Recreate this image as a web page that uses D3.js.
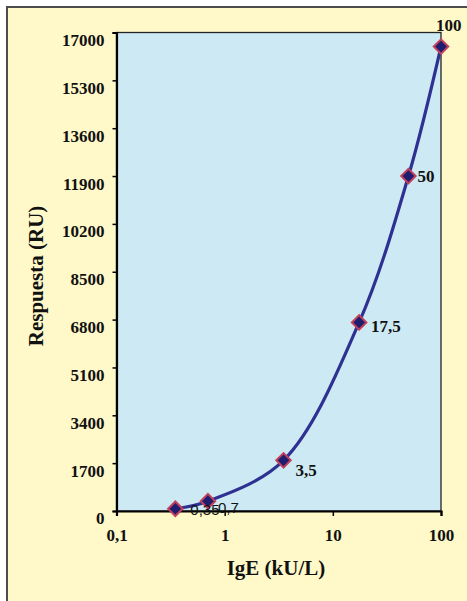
<!DOCTYPE html>
<html>
<head>
<meta charset="utf-8">
<script src="https://cdn.jsdelivr.net/npm/d3@7"></script>
<style>
  html, body { margin: 0; padding: 0; background: #ffffff; }
  svg { display: block; }
</style>
</head>
<body>
<svg id="chart" width="467" height="601"></svg>
<script>
// IgE concentration (kU/L) and instrument response (RU)
const igE = [0.35, 0.7, 3.5, 17.5, 50, 100];
const respuesta = [80, 350, 1800, 6700, 11900, 16500];
const pointLabels = ["0,35", "0,7", "3,5", "17,5", "50", "100"];

const xTickValues = [0.1, 1, 10, 100];
const xTickLabels = ["0,1", "1", "10", "100"];
const yTickValues = [0, 1700, 3400, 5100, 6800, 8500, 10200, 11900, 13600, 15300, 17000];
const yTickLabels = ["0", "1700", "3400", "5100", "6800", "8500", "10200", "11900", "13600", "15300", "17000"];

// label placement relative to each marker (left edge, baseline)
const labelOffsets = [[15, 6], [10, 12], [12, 16], [12, 10], [9, 6], [-5, -16]];

const svg = d3.select("#chart");
const W = 467, H = 601;
const plot = { left: 116.5, right: 441, top: 32.5, bottom: 511 };

const x = d3.scaleLog().domain([0.1, 100]).range([plot.left, plot.right]);
const y = d3.scaleLinear().domain([0, 17000]).range([plot.bottom, plot.top]);

const serif = "'Liberation Serif', 'Times New Roman', serif";

// outer panel
svg.append("rect")
  .attr("x", 6).attr("y", 6).attr("width", W).attr("height", H)
  .attr("fill", "#fff8c9");
svg.append("path")
  .attr("d", `M7,${H} V7 H${W}`)
  .attr("fill", "none").attr("stroke", "#4d4d4d").attr("stroke-width", 2);

// plot area
svg.append("rect")
  .attr("x", plot.left).attr("y", plot.top)
  .attr("width", plot.right - plot.left).attr("height", plot.bottom - plot.top)
  .attr("fill", "#cde9f3")
  .attr("stroke", "#222").attr("stroke-width", 1.3);

// y axis
const yAxis = d3.axisLeft(y)
  .tickValues(yTickValues)
  .tickSize(4)
  .tickFormat((d, i) => yTickLabels[i]);
const gy = svg.append("g").attr("transform", `translate(${plot.left},0)`).call(yAxis);
gy.select(".domain").attr("stroke", "#000").attr("stroke-width", 2.2);
gy.selectAll(".tick line").attr("stroke", "#000").attr("stroke-width", 1.5);
gy.selectAll(".tick text")
  .attr("x", -12).attr("dy", "0.82em").attr("y", -1)
  .style("font-family", serif).style("font-weight", "bold").style("font-size", "17px")
  .attr("fill", "#111");

// x axis
const xAxis = d3.axisBottom(x)
  .tickValues(xTickValues)
  .tickSize(5)
  .tickFormat((d, i) => xTickLabels[i]);
const gx = svg.append("g").attr("transform", `translate(0,${plot.bottom})`).call(xAxis);
gx.select(".domain").attr("stroke", "#000").attr("stroke-width", 2.2);
gx.selectAll(".tick line").attr("stroke", "#000").attr("stroke-width", 1.5);
gx.selectAll(".tick text")
  .attr("y", 18).attr("dy", "0.71em")
  .style("font-family", serif).style("font-weight", "bold").style("font-size", "17px")
  .attr("fill", "#111");

// axis titles
svg.append("text")
  .attr("transform", `translate(43,276) rotate(-90)`)
  .attr("text-anchor", "middle")
  .style("font-family", serif).style("font-weight", "bold").style("font-size", "21px")
  .attr("fill", "#111")
  .text("Respuesta (RU)");
svg.append("text")
  .attr("x", 276).attr("y", 575)
  .attr("text-anchor", "middle")
  .style("font-family", serif).style("font-weight", "bold").style("font-size", "21px")
  .attr("fill", "#111")
  .text("IgE (kU/L)");

// smoothed response curve
const pts = igE.map((d, i) => [x(d), y(respuesta[i])]);
const line = d3.line().curve(d3.curveCatmullRom.alpha(0.5));
svg.append("path")
  .attr("d", line(pts))
  .attr("fill", "none")
  .attr("stroke", "#2e3192")
  .attr("stroke-width", 3.2)
  .attr("stroke-linejoin", "round");

// diamond markers
const diamond = d3.symbol().type(d3.symbolSquare).size(105);
svg.append("g").selectAll("path")
  .data(pts)
  .join("path")
  .attr("d", diamond)
  .attr("transform", d => `translate(${d[0]},${d[1]}) rotate(45)`)
  .attr("fill", "#1f1d70")
  .attr("stroke", "#c2405a")
  .attr("stroke-width", 2);

// point labels
svg.append("g").selectAll("text")
  .data(pts)
  .join("text")
  .attr("x", (d, i) => d[0] + labelOffsets[i][0])
  .attr("y", (d, i) => d[1] + labelOffsets[i][1])
  .style("font-family", (d, i) => i < 2 ? "'Liberation Sans', Arial, sans-serif" : serif)
  .style("font-weight", (d, i) => i < 2 ? "normal" : "bold")
  .style("font-size", (d, i) => i < 2 ? "15px" : "17px")
  .attr("fill", "#111")
  .text((d, i) => pointLabels[i]);
</script>
</body>
</html>
